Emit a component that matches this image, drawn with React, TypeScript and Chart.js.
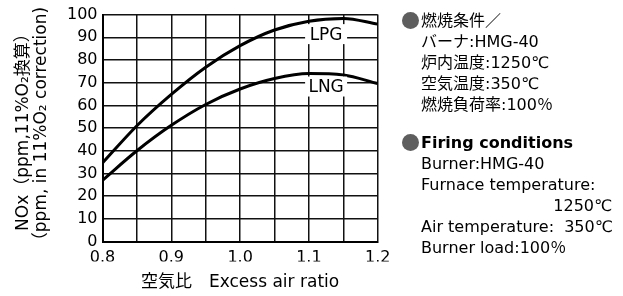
import React, { useEffect, useRef } from "react";
import { Chart, registerables } from "chart.js";

Chart.register(...registerables);

const xValues = [0.8, 0.85, 0.9, 0.95, 1.0, 1.05, 1.1, 1.15, 1.2];
const lpgValues = [34.6, 51, 64.8, 76.8, 86.3, 93.2, 97.1, 98.3, 95.8];
const lngValues = [27, 40, 51.2, 60.4, 67.2, 71.8, 74.0, 73.4, 69.6];

const xTicks = [0.8, 0.85, 0.9, 0.95, 1.0, 1.05, 1.1, 1.15, 1.2];
const xTickLabels = ["0.8", "", "0.9", "", "1.0", "", "1.1", "", "1.2"];
const yTicks = [0, 10, 20, 30, 40, 50, 60, 70, 80, 90, 100];
const yTickLabels = ["0", "10", "20", "30", "40", "50", "60", "70", "80", "90", "100"];

const seriesNames = ["LPG", "LNG"];
const labelAnchors = [
  { x: 1.125, y: 91.4 },
  { x: 1.125, y: 68.3 },
];

const yTitle1 = "NOx（ppm,11%O₂換算）";
const yTitle2 = "（ppm, in 11%O₂ correction)";
const xTitle = "空気比　Excess air ratio";

const jpLines = ["燃焼条件／", "バーナ:HMG-40", "炉内温度:1250℃", "空気温度:350℃", "燃焼負荷率:100％"];
const enTitle = "Firing conditions";
const enLines = ["Burner:HMG-40", "Furnace temperature:", "1250℃", "Air temperature:  350℃", "Burner load:100％"];

const FONT = "'DejaVu Sans', 'Noto Sans CJK JP', sans-serif";

const annotPlugin = {
  id: "annot",
  afterDatasetsDraw(chart: any) {
    const ctx = chart.ctx;
    const xs = chart.scales.x;
    const ys = chart.scales.y;
    ctx.save();
    ctx.font = `17px ${FONT}`;
    ctx.textAlign = "center";
    ctx.textBaseline = "middle";
    seriesNames.forEach((name, i) => {
      const px = xs.getPixelForValue(labelAnchors[i].x);
      const py = ys.getPixelForValue(labelAnchors[i].y);
      ctx.fillStyle = "#fff";
      ctx.fillRect(px - 21, py - 10, 42, 20);
      ctx.fillStyle = "#000";
      ctx.fillText(name, px, py + 1);
    });
    ctx.restore();
  },
  afterDraw(chart: any) {
    const ctx = chart.ctx;
    const area = chart.chartArea;
    const cy = (area.top + area.bottom) / 2;
    ctx.save();
    ctx.fillStyle = "#000";
    ctx.font = `17px ${FONT}`;
    ctx.textAlign = "center";
    ctx.textBaseline = "middle";
    ctx.translate(24, cy);
    ctx.rotate(-Math.PI / 2);
    ctx.fillText(yTitle1, 0, 0);
    ctx.fillText(yTitle2, 0, 18);
    ctx.restore();
    ctx.save();
    ctx.fillStyle = "#000";
    ctx.font = `17px ${FONT}`;
    ctx.textAlign = "center";
    ctx.textBaseline = "middle";
    ctx.fillText(xTitle, (area.left + area.right) / 2, 283);
    ctx.restore();
  },
};

export default function App() {
  const ref = useRef<HTMLCanvasElement>(null);
  useEffect(() => {
    if (!ref.current) return;
    const chart = new Chart(ref.current, {
      type: "line",
      data: {
        datasets: [
          {
            label: seriesNames[0],
            data: xValues.map((x, i) => ({ x, y: lpgValues[i] })),
            borderColor: "#000",
            borderWidth: 3,
            pointRadius: 0,
            cubicInterpolationMode: "monotone",
          },
          {
            label: seriesNames[1],
            data: xValues.map((x, i) => ({ x, y: lngValues[i] })),
            borderColor: "#000",
            borderWidth: 3,
            pointRadius: 0,
            cubicInterpolationMode: "monotone",
          },
        ],
      },
      options: {
        animation: false,
        responsive: false,
        maintainAspectRatio: false,
        layout: { padding: { left: 62.5, right: 245.3, top: 12, bottom: 34.5 } },
        plugins: { legend: { display: false }, tooltip: { enabled: false } },
        scales: {
          x: {
            type: "linear",
            min: 0.8,
            max: 1.2,
            afterBuildTicks: (s: any) => {
              s.ticks = xTicks.map((v) => ({ value: v }));
            },
            afterFit: (s: any) => {
              s.height = 20;
            },
            ticks: {
              autoSkip: false,
              maxRotation: 0,
              padding: 7,
              color: "#000",
              font: { size: 16, family: FONT },
              callback: (_v: any, i: number) => xTickLabels[i],
            },
            grid: { color: "#111", lineWidth: 1.5, drawTicks: false },
            border: { color: "#000", width: 2 },
          },
          y: {
            min: 0,
            max: 100,
            afterBuildTicks: (s: any) => {
              s.ticks = yTicks.map((v) => ({ value: v }));
            },
            afterFit: (s: any) => {
              s.width = 40;
            },
            ticks: {
              autoSkip: false,
              padding: 5,
              color: "#000",
              font: { size: 16, family: FONT },
              callback: (_v: any, i: number) => yTickLabels[i],
            },
            grid: { color: "#111", lineWidth: 1.5, drawTicks: false },
            border: { color: "#000", width: 2 },
          },
        },
      },
      plugins: [annotPlugin],
    } as any);
    return () => chart.destroy();
  }, []);

  const textStyle: React.CSSProperties = {
    position: "absolute",
    left: 421,
    width: 191,
    fontFamily: FONT,
    fontSize: 16,
    lineHeight: "21px",
    color: "#000",
    whiteSpace: "pre",
  };
  const bullet = (top: number): React.CSSProperties => ({
    position: "absolute",
    left: 402,
    top,
    width: 17,
    height: 17,
    borderRadius: "50%",
    background: "#5e5e5e",
  });

  return (
    <div style={{ position: "fixed", left: 0, top: 0, width: 623, height: 296, background: "#fff" }}>
      <canvas ref={ref} width={623} height={296} style={{ position: "absolute", left: 0, top: 0 }} />
      <div style={bullet(11.5)} />
      <div style={{ ...textStyle, top: 9.5 }}>
        {jpLines.map((l, i) => (
          <div key={i}>{l}</div>
        ))}
      </div>
      <div style={bullet(133.5)} />
      <div style={{ ...textStyle, top: 131.5 }}>
        <div style={{ fontWeight: "bold" }}>{enTitle}</div>
        {enLines.map((l, i) => (
          <div key={i} style={{ textAlign: l === "1250℃" ? "right" : "left" }}>
            {l}
          </div>
        ))}
      </div>
    </div>
  );
}
